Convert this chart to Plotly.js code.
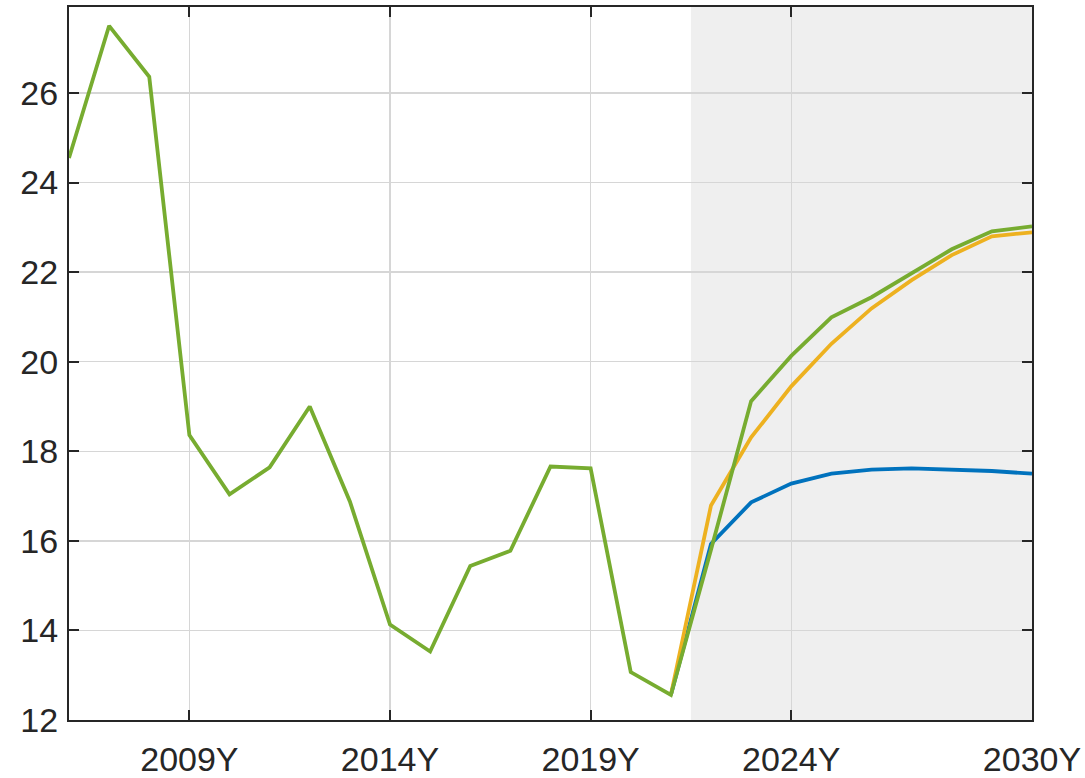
<!DOCTYPE html>
<html>
<head>
<meta charset="utf-8">
<script src="https://cdn.plot.ly/plotly-3.0.1.min.js"></script>
<style>html,body{margin:0;padding:0;background:#fff;}#chart{width:1085px;height:778px;}</style>
</head>
<body>
<div id="chart"></div>
<script>
const years = [2006,2007,2008,2009,2010,2011,2012,2013,2014,2015,2016,2017,2018,2019,2020,2021,2022,2023,2024,2025,2026,2027,2028,2029,2030];
const historyYears = years.slice(0, 16);
const historyValues = [24.55,27.5,26.36,18.36,17.04,17.64,19.0,16.88,14.13,13.53,15.44,15.78,17.66,17.62,13.07,12.56];
const forecastYears = [2021,2022,2023,2024,2025,2026,2027,2028,2029,2030];
const blueValues   = [12.56,15.93,16.86,17.28,17.5,17.59,17.62,17.6,17.56,17.5];
const orangeValues = [12.56,16.79,18.31,19.45,20.4,21.19,21.82,22.38,22.8,22.89];
const greenValues  = [12.56,15.8,19.12,20.13,20.99,21.44,21.97,22.51,22.91,23.02];
const tickYears = [2009,2014,2019,2024,2030];
const tickLabels = ['2009Y','2014Y','2019Y','2024Y','2030Y'];
const yTicks = [12,14,16,18,20,22,24,26];
const shadeStart = 2021.5, shadeEnd = 2030;

const traces = [
  {x: forecastYears, y: blueValues, mode:'lines', line:{color:'#0072BD', width:3.8}},
  {x: forecastYears, y: orangeValues, mode:'lines', line:{color:'#EDB120', width:3.8}},
  {x: historyYears.concat(forecastYears.slice(1)), y: historyValues.concat(greenValues.slice(1)), mode:'lines', line:{color:'#77AC30', width:3.8}}
];

const layout = {
  width:1085, height:778,
  margin:{l:69, r:53, t:7, b:58},
  showlegend:false,
  paper_bgcolor:'#fff', plot_bgcolor:'#fff',
  font:{family:'Liberation Sans, Arial, sans-serif', size:34, color:'#262626'},
  xaxis:{range:[2006,2030], tickvals:tickYears, ticktext:tickLabels, ticks:'inside', ticklen:10, tickwidth:2, tickcolor:'#262626',
         showline:true, linecolor:'#262626', linewidth:2, mirror:'ticks', showgrid:true, gridcolor:'#d6d6d6', gridwidth:1.5, zeroline:false, ticklabelstandoff:8},
  yaxis:{range:[12,27.92], tickvals:yTicks, ticks:'inside', ticklen:10, tickwidth:2, tickcolor:'#262626',
         showline:true, linecolor:'#262626', linewidth:2, mirror:'ticks', showgrid:true, gridcolor:'#d6d6d6', gridwidth:1.5, zeroline:false, ticklabelstandoff:2},
  shapes:[{type:'rect', xref:'x', yref:'paper', x0:shadeStart, x1:shadeEnd, y0:0, y1:1, fillcolor:'#efefef', line:{width:0}, layer:'below'}]
};
Plotly.newPlot('chart', traces, layout, {displayModeBar:false, staticPlot:true});
</script>
</body>
</html>
